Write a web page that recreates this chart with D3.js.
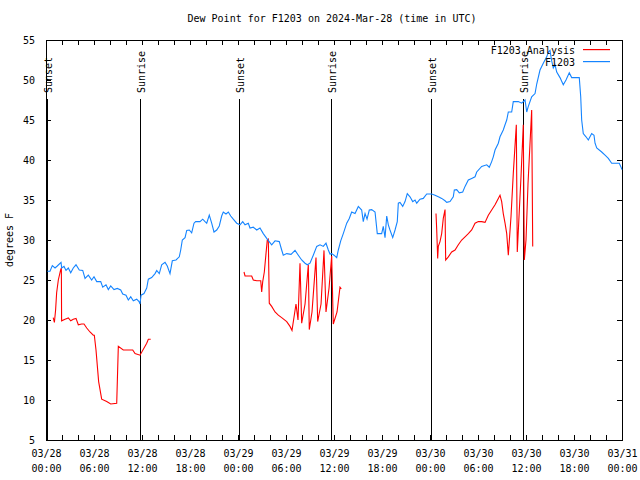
<!DOCTYPE html>
<html><head><meta charset="utf-8">
<script src="https://cdn.jsdelivr.net/npm/d3@7"></script>
<style>
body{margin:0;background:#fff;}
text{font-family:"DejaVu Sans Mono","Liberation Mono",monospace;font-size:10px;fill:#000;}
</style></head>
<body><svg id="chart" width="640" height="480"></svg>
<script>
// Hours after 2024-03-28 00:00 UTC
const blueHours = [0.16,0.5,0.79,1.13,1.41,1.88,1.96,2.25,2.5,2.79,3.09,3.41,3.75,4.16,4.59,4.88,5.29,5.71,6.0,6.34,6.84,7.09,7.5,7.79,8.09,8.5,8.91,9.34,9.59,10.0,10.29,10.59,10.91,11.34,11.63,11.75,11.88,12.25,12.59,12.79,13.21,13.63,13.84,14.16,14.46,14.88,15.16,15.5,15.79,16.25,16.66,16.84,17.04,17.38,17.59,17.91,18.21,18.5,18.71,19.25,19.59,19.88,20.09,20.41,20.71,21.0,21.34,21.66,21.96,22.16,22.5,22.79,23.09,23.41,23.84,24.25,24.59,24.88,25.29,25.5,25.91,26.34,26.75,27.16,27.59,28.21,28.63,29.16,29.46,29.66,30.09,30.63,31.13,31.54,31.96,32.38,32.66,33.0,33.41,33.84,34.25,34.66,35.0,35.29,35.5,35.71,36.0,36.34,36.54,36.84,37.16,37.59,37.91,38.21,38.63,39.04,39.46,39.66,39.88,40.13,40.41,40.71,41.13,41.41,41.96,42.16,42.38,42.59,42.79,43.0,43.34,43.63,43.91,44.04,44.25,44.59,44.88,45.16,45.5,45.84,46.13,46.34,46.75,47.16,47.59,48.21,48.63,49.04,49.46,49.88,50.09,50.5,50.91,51.04,51.34,51.66,52.09,52.38,52.79,53.21,53.63,53.84,54.46,55.09,55.41,55.71,55.91,56.13,56.54,56.75,57.16,57.38,57.59,57.79,58.21,58.41,59.04,59.46,59.88,60.09,60.29,60.71,61.13,61.34,61.75,62.16,62.59,62.79,63.0,63.19,63.41,63.63,63.84,64.25,64.66,65.0,65.41,65.71,66.66,66.84,66.96,67.16,67.5,67.79,68.21,68.5,68.63,68.84,69.46,69.88,70.29,70.71,71.66,71.84,72.0];
const blueValues = [26.1,26.1,26.8,26.5,26.75,27.2,26.5,26.7,26.2,26.5,25.9,26.5,26.9,26.25,26.2,25.2,25.6,25.0,25.4,24.8,24.8,24.1,24.4,23.8,24.25,23.8,23.95,23.75,23.25,23.1,22.5,22.9,22.4,22.6,22.3,22.0,23.1,23.3,24.0,25.1,25.3,25.8,26.2,25.8,26.9,27.2,26.75,25.8,27.4,27.5,27.9,28.75,30.0,30.3,31.2,31.25,30.9,32.1,32.3,32.3,32.6,32.3,32.1,33.1,32.1,31.0,31.25,31.75,33.0,33.5,33.25,33.5,33.0,32.6,32.1,31.9,32.3,31.9,32.1,31.5,31.6,31.25,31.5,30.8,30.2,29.4,29.9,29.8,28.75,28.1,28.3,28.2,28.7,28.1,27.5,27.1,26.9,27.1,28.1,29.2,29.4,29.2,29.6,28.75,28.25,28.3,28.1,27.8,28.75,29.9,30.8,32.1,32.7,33.5,33.3,34.2,33.75,32.3,33.3,32.6,33.75,33.8,33.5,30.8,30.8,31.7,30.3,33.0,31.9,31.25,30.3,31.25,32.3,34.6,34.7,34.2,34.8,35.8,35.4,34.8,35.0,34.6,35.1,35.2,35.75,35.75,35.6,35.4,35.2,34.9,34.7,34.8,35.4,36.25,36.3,35.9,36.0,36.7,37.5,37.7,37.9,38.5,39.2,39.4,39.1,39.8,40.4,41.25,42.1,42.9,43.75,44.4,45.0,46.0,46.0,47.3,47.3,47.1,47.5,46.0,46.7,47.9,48.3,49.5,51.25,52.1,52.9,53.5,53.7,52.5,51.5,51.9,51.0,50.3,49.4,50.0,50.9,50.3,50.3,47.9,45.0,43.3,42.9,42.5,43.3,43.1,42.1,41.5,41.0,40.6,40.2,39.6,39.6,39.2,38.8];

// null marks a gap in the analysis series
const redHours = [0.9,1.05,1.2,1.33,1.54,1.83,1.92,1.95,2.38,2.79,3.09,3.41,3.75,4.04,4.46,4.75,5.09,5.5,5.91,6.04,6.25,6.58,6.96,7.59,8.09,8.84,9.04,9.66,10.84,11.13,11.75,12.59,12.79,13.09,
  null,
  24.75,24.88,25.71,25.91,26.34,26.84,26.96,27.09,27.29,27.5,27.66,27.79,27.91,28.21,28.63,29.04,29.46,30.09,30.5,30.75,31.25,31.5,31.75,31.96,32.38,32.79,32.91,33.25,33.75,33.96,34.38,34.75,35.0,35.38,35.71,35.91,36.38,36.75,36.91,
  null,
  48.75,48.84,48.96,49.04,49.25,49.46,49.66,49.88,49.96,50.29,50.71,51.13,51.54,51.96,52.38,52.79,53.21,53.63,54.04,54.46,54.88,55.29,55.71,56.13,56.54,56.75,56.96,57.16,57.38,57.59,57.79,58.13,58.41,58.79,58.91,59.13,59.38,59.66,59.79,60.0,60.25,60.71,60.84];
const redValues = [20.3,19.7,21.25,23.4,25.0,26.25,26.5,19.9,20.1,20.25,19.9,20.1,20.2,19.4,19.5,19.5,19.0,18.5,18.1,18.1,16.25,12.3,10.1,9.8,9.5,9.6,16.7,16.25,16.25,15.8,15.6,17.1,17.6,17.6,
  null,
  26.0,25.5,25.5,25.0,24.9,24.9,23.5,24.8,26.0,28.3,30.0,30.1,22.1,21.7,21.0,20.6,20.3,19.8,19.2,18.7,22.0,20.0,27.1,19.6,22.0,26.9,18.8,21.0,27.8,19.8,22.0,28.7,21.0,24.0,28.0,19.5,21.0,24.1,23.9,
  null,
  33.3,31.25,27.7,29.2,29.8,30.8,32.7,33.8,27.5,27.9,28.5,28.75,29.4,30.0,30.4,30.8,31.25,32.1,32.3,32.3,32.2,33.1,33.75,34.4,35.2,35.6,34.8,33.3,32.1,30.8,28.1,33.0,38.3,44.4,28.5,33.0,38.0,44.4,27.5,30.0,37.0,46.25,29.2];

const eventHours = [0.1, 11.75, 24.12, 35.62, 48.12, 59.62];
const eventLabels = ["Sunset","Sunrise","Sunset","Sunrise","Sunset","Sunrise"];

const yTicks = [5,10,15,20,25,30,35,40,45,50,55];
const seriesNames = ["F1203 Analysis","F1203"];
const seriesColors = ["#ff0000","#1484ff"];
const title = "Dew Point for F1203 on 2024-Mar-28 (time in UTC)";
const yLabel = "degrees F";

const t0 = Date.UTC(2024,2,28);
const toDate = h => new Date(t0 + h*3600e3);

const svg = d3.select("#chart");
const L=46, R=622, T=40, B=440;
const x = d3.scaleUtc().domain([toDate(0), toDate(72)]).range([L,R]);
const y = d3.scaleLinear().domain([5,55]).range([B,T]);

// title
svg.append("text").attr("x",332).attr("y",22).attr("text-anchor","middle").text(title);
// y label
svg.append("text").attr("transform","translate(13,240) rotate(-90)").attr("text-anchor","middle").text(yLabel);

// ticks
const minorTicks = d3.range(0,73,2).map(toDate);
const majorTicks = d3.range(0,73,6).map(toDate);
svg.append("g").attr("transform",`translate(0,${B})`).call(d3.axisBottom(x).tickValues(minorTicks).tickSizeInner(-5).tickSizeOuter(0).tickFormat(""))
  .call(g=>g.select(".domain").remove());
svg.append("g").attr("transform",`translate(0,${T})`).call(d3.axisTop(x).tickValues(minorTicks).tickSizeInner(-5).tickSizeOuter(0).tickFormat(""))
  .call(g=>g.select(".domain").remove());
svg.append("g").attr("transform",`translate(${L},0)`).call(d3.axisLeft(y).tickValues(yTicks).tickSizeInner(-5).tickSizeOuter(0).tickPadding(11).tickFormat(d3.format("d")))
  .call(g=>g.select(".domain").remove())
  .call(g=>g.selectAll("text").attr("font-family",null).attr("font-size",null));
svg.append("g").attr("transform",`translate(${R},0)`).call(d3.axisRight(y).tickValues(yTicks).tickSizeInner(-5).tickSizeOuter(0).tickFormat(""))
  .call(g=>g.select(".domain").remove());

// x labels two lines
const fmtD = d3.utcFormat("%m/%d"), fmtH = d3.utcFormat("%H:%M");
const xl = svg.append("g").attr("transform",`translate(0,${B})`).call(d3.axisBottom(x).tickValues(majorTicks).tickSize(0).tickFormat(""));
xl.select(".domain").remove();
xl.selectAll(".tick").each(function(d){
  const t = d3.select(this).append("text").attr("text-anchor","middle").attr("fill","#000");
  t.append("tspan").attr("x",0).attr("y",17).text(fmtD(d));
  t.append("tspan").attr("x",0).attr("y",32).text(fmtH(d));
});

svg.selectAll(".tick line").attr("stroke","#000").attr("shape-rendering","crispEdges");

// frame
svg.append("rect").attr("x",L+0.5).attr("y",T+0.5).attr("width",R-L).attr("height",B-T)
  .attr("fill","none").attr("stroke","#000").attr("shape-rendering","crispEdges");

// event lines
const ev = svg.append("g");
eventHours.forEach((h,i)=>{
  const xx = Math.round(x(toDate(h))) + 0.5;
  ev.append("line").attr("x1",xx).attr("x2",xx).attr("y1",99).attr("y2",B)
    .attr("stroke","#000").attr("stroke-width",1).attr("shape-rendering","crispEdges");
  ev.append("text").attr("transform",`translate(${xx+4},93) rotate(-90)`).attr("text-anchor","start").text(eventLabels[i]);
});

// series
const lineGen = d3.line().defined(d=>d[0]!==null && d[1]!==null).x(d=>x(toDate(d[0]))).y(d=>y(d[1]));
const redData = redHours.map((h,i)=>[h,redValues[i]]);
const blueData = blueHours.map((h,i)=>[h,blueValues[i]]);
svg.append("path").datum(redData).attr("d",lineGen).attr("fill","none").attr("stroke",seriesColors[0]).attr("stroke-width",1.1);
svg.append("path").datum(blueData).attr("d",lineGen).attr("fill","none").attr("stroke",seriesColors[1]).attr("stroke-width",1.1);

// legend
const lg = svg.append("g");
seriesNames.forEach((n,i)=>{
  const yy = 50 + i*12;
  lg.append("text").attr("x",575).attr("y",yy+3.5).attr("text-anchor","end").text(n);
  lg.append("rect").attr("x",583).attr("y",yy-1).attr("width",27).attr("height",1.2)
    .attr("fill",seriesColors[i]);
});
</script></body></html>
